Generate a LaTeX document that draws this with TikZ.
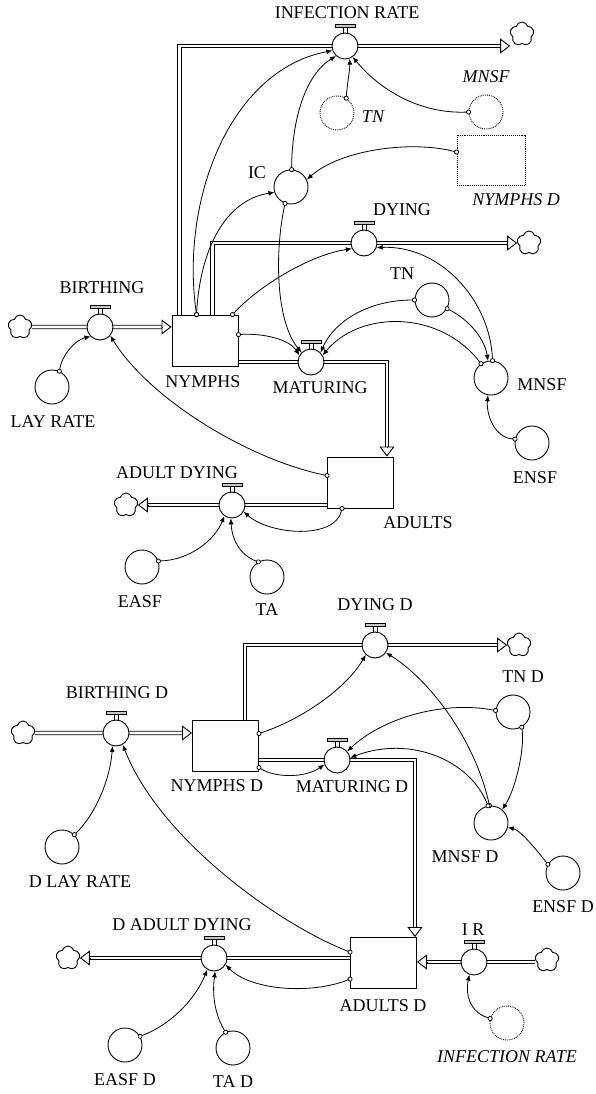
\documentclass[tikz,border=0pt]{standalone}
\usepackage{fontspec}
\setmainfont{Liberation Serif}
\usetikzlibrary{arrows.meta,calc,shapes.symbols}
\pgfdeclarelayer{pipes}
\pgfsetlayers{pipes,main}
\begin{document}
\begin{tikzpicture}[x=1pt,y=-1pt,
  every node/.style={font=\fontsize{18}{20}\selectfont},
  stock/.style={draw, line width=0.9pt, fill=white, minimum width=66pt, minimum height=51pt, inner sep=0pt},
  valve/.style={draw, line width=0.9pt, fill=white, circle, minimum size=26pt, inner sep=0pt},
  aux/.style={draw, line width=0.9pt, fill=white, circle, minimum size=34pt, inner sep=0pt},
  ghost/.style={draw, densely dotted, line width=0.9pt, circle, minimum size=34pt, inner sep=0pt},
  ghostbox/.style={draw, densely dotted, line width=0.9pt, minimum width=68pt, minimum height=50pt, inner sep=0pt},
  sink/.style={draw, cloud, cloud puffs=5, cloud puff arc=150, aspect=1, minimum width=24pt, minimum height=24pt, inner sep=0pt, line width=0.9pt, fill=white},
  lbl/.style={inner sep=0pt},
  ghostlbl/.style={inner sep=0pt, font=\fontsize{18}{20}\selectfont\itshape},
  pipe/.style={line width=0.9pt, double=white, double distance=2.6pt, line join=miter},
  pipehead/.style={line width=0.9pt, -{Triangle[open,length=10pt,width=15pt]}},
  link/.style={line width=0.8pt, {Circle[fill=white,length=5pt,width=5pt]}-{Latex[length=6pt,width=5pt]}, shorten <=-2.5pt},
  valvebar/.style={line width=0.8pt, fill=gray!45},
]
\useasboundingbox (0,0) rectangle (596,1094);

% ---------------- first model ----------------
% stocks
\node[stock] (nymphs) at (205,340.5) {};
\node[stock] (adults) at (360.5,482.5) {};
% flows
\node[valve] (infrate) at (345,46) {};
\node[valve] (birthing) at (100,327) {};
\node[valve] (dying) at (364,243) {};
\node[valve] (maturing) at (311,362) {};
\node[valve] (adultdying) at (232,505) {};
% auxiliaries
\node[aux] (ic) at (291,187) {};
\node[aux] (tn) at (432,300) {};
\node[aux] (mnsf) at (491,378) {};
\node[aux] (ensf) at (532,443) {};
\node[aux] (layrate) at (52,387) {};
\node[aux] (easf) at (142,567) {};
\node[aux] (ta) at (267,577) {};
% ghosts
\node[ghost] (gtn) at (337,113) {};
\node[ghost] (gmnsf) at (486,112) {};
\node[ghostbox] (gnymphsd) at (491,160) {};
% clouds
\node[sink] (c1) at (522,34) {};
\node[sink] (c2) at (20,327) {};
\node[sink] (c3) at (529,243) {};
\node[sink] (c4) at (126,505) {};

% labels
\node[lbl] (infrate-l) at (347,13) {INFECTION RATE};
\node[lbl] (birthing-l) at (102,288) {BIRTHING};
\node[lbl] (dying-l) at (402,210) {DYING};
\node[lbl] (maturing-l) at (320,388) {MATURING};
\node[lbl] (adultdying-l) at (177,473) {ADULT DYING};
\node[lbl] (nymphs-l) at (203,382) {NYMPHS};
\node[lbl] (adults-l) at (418,523) {ADULTS};
\node[lbl] (ic-l) at (257,173) {IC};
\node[lbl] (tn-l) at (402,274) {TN};
\node[lbl] (mnsf-l) at (542,385) {MNSF};
\node[lbl] (ensf-l) at (535,478) {ENSF};
\node[lbl] (layrate-l) at (53,422) {LAY RATE};
\node[lbl] (easf-l) at (140,602) {EASF};
\node[lbl] (ta-l) at (267,610) {TA};
\node[ghostlbl] (gtn-l) at (373,117) {TN};
\node[ghostlbl] (gmnsf-l) at (486,77) {MNSF};
\node[ghostlbl] (gnymphsd-l) at (516,200) {NYMPHS D};

% ---------------- second model ----------------
\node[stock] (nymphsd) at (225.5,745.5) {};
\node[stock] (adultsd) at (383.5,963) {};
\node[valve] (birthingd) at (116,733) {};
\node[valve] (dyingd) at (375,645) {};
\node[valve] (maturingd) at (337,760) {};
\node[valve] (dadultdying) at (214,958) {};
\node[valve] (ir) at (474,962) {};
\node[aux] (tnd) at (513,712) {};
\node[aux] (mnsfd) at (491,823) {};
\node[aux] (ensfd) at (563,873) {};
\node[aux] (dlayrate) at (62,847) {};
\node[aux] (easfd) at (125,1045) {};
\node[aux] (tad) at (233,1048) {};
\node[ghost] (ginfrate) at (507,1023) {};
\node[sink] (c5) at (23,733) {};
\node[sink] (c6) at (519,645) {};
\node[sink] (c7) at (68,958) {};
\node[sink] (c8) at (547,960) {};

\node[lbl] (birthingd-l) at (117,693) {BIRTHING D};
\node[lbl] (dyingd-l) at (375,605) {DYING D};
\node[lbl] (maturingd-l) at (352,787) {MATURING D};
\node[lbl] (dadultdying-l) at (182,925) {D ADULT DYING};
\node[lbl] (ir-l) at (473,930) {I R};
\node[lbl] (nymphsd-l) at (217,786) {NYMPHS D};
\node[lbl] (adultsd-l) at (383,1006) {ADULTS D};
\node[lbl] (tnd-l) at (523,677) {TN D};
\node[lbl] (mnsfd-l) at (465,857) {MNSF D};
\node[lbl] (ensfd-l) at (563,907) {ENSF D};
\node[lbl] (dlayrate-l) at (80,882) {D LAY RATE};
\node[lbl] (easfd-l) at (125,1080) {EASF D};
\node[lbl] (tad-l) at (233,1082) {TA D};
\node[ghostlbl] (ginfrate-l) at (507,1057) {INFECTION RATE};

% valve handles
\foreach \v in {infrate,birthing,dying,maturing,adultdying,birthingd,dyingd,maturingd,dadultdying,ir}{
  \draw[line width=0.8pt] ([xshift=-2pt]\v.north) -- ++(0,-5) ([xshift=2pt]\v.north) -- ++(0,-5);
  \draw[valvebar] ([xshift=-10pt,yshift=5pt]\v.north) rectangle ([xshift=10pt,yshift=8pt]\v.north);
}

% ---------------- pipes ----------------
\begin{pgfonlayer}{pipes}
  % first model
  \draw[pipe, shorten >=10pt] ([xshift=8pt]nymphs.north west) |- (infrate.center) -- (infrate.center -| c1.west);
  \draw[pipehead] ($(infrate.center -| c1.west)+(-10,0)$) -- (infrate.center -| c1.west);
  \draw[pipe, shorten >=10pt] (c2.east) -- (birthing.center -| nymphs.west);
  \draw[pipehead] ($(birthing.center -| nymphs.west)+(-10,0)$) -- (birthing.center -| nymphs.west);
  \draw[pipe, shorten >=10pt] ([xshift=41pt]nymphs.north west) |- (dying.center) -- (dying.center -| c3.west);
  \draw[pipehead] ($(dying.center -| c3.west)+(-10,0)$) -- (dying.center -| c3.west);
  \draw[pipe, shorten >=10pt] (maturing.center -| nymphs.east) -- (maturing.center) -| ([xshift=-7pt]adults.north east);
  \draw[pipehead] ($([xshift=-7pt]adults.north east)+(0,-10)$) -- ([xshift=-7pt]adults.north east);
  \draw[pipe, shorten >=10pt] (adultdying.center -| adults.west) -- (adultdying.center -| c4.east);
  \draw[pipehead] ($(adultdying.center -| c4.east)+(10,0)$) -- (adultdying.center -| c4.east);
  % second model
  \draw[pipe, shorten >=10pt] (c5.east) -- (birthingd.center -| nymphsd.west);
  \draw[pipehead] ($(birthingd.center -| nymphsd.west)+(-10,0)$) -- (birthingd.center -| nymphsd.west);
  \draw[pipe, shorten >=10pt] ([xshift=53pt]nymphsd.north west) |- (dyingd.center) -- (dyingd.center -| c6.west);
  \draw[pipehead] ($(dyingd.center -| c6.west)+(-10,0)$) -- (dyingd.center -| c6.west);
  \draw[pipe, shorten >=10pt] (maturingd.center -| nymphsd.east) -- (maturingd.center) -| ([xshift=-2pt]adultsd.north east);
  \draw[pipehead] ($([xshift=-2pt]adultsd.north east)+(0,-10)$) -- ([xshift=-2pt]adultsd.north east);
  \draw[pipe, shorten >=10pt] (dadultdying.center -| adultsd.west) -- (dadultdying.center -| c7.east);
  \draw[pipehead] ($(dadultdying.center -| c7.east)+(10,0)$) -- (dadultdying.center -| c7.east);
  \draw[pipe, shorten >=10pt] (c8.west |- ir.center) -- (ir.center -| adultsd.east);
  \draw[pipehead] ($(ir.center -| adultsd.east)+(10,0)$) -- (ir.center -| adultsd.east);
\end{pgfonlayer}

% ---------------- connectors, first model ----------------
\draw[link] ([xshift=25pt]nymphs.north west) .. controls (180,200) and (230,70) .. (infrate.200);
\draw[link] ([xshift=25pt]nymphs.north west) .. controls (200,250) and (225,200) .. (ic.198);
\draw[link] (ic.88) .. controls (292,120) and (305,75) .. (infrate.228);
\draw[link] (gtn.58) .. controls (347,85) and (350,70) .. (infrate.290);
\draw[link] (gmnsf.180) .. controls (420,114) and (380,90) .. (infrate.305);
\draw[link] ([yshift=8pt]gnymphsd.west) .. controls (410,140) and (340,150) .. (ic.25);
\draw[link] (ic.250) .. controls (275,250) and (275,320) .. (maturing.135);
\draw[link] ([xshift=-6pt]nymphs.north east) .. controls (260,285) and (310,255) .. (dying.205);
\draw[link] ([yshift=-20pt]nymphs.north east) .. controls (265,333) and (290,340) .. (maturing.150);
\draw[link] (tn.180) .. controls (370,300) and (335,320) .. (maturing.45);
\draw[link] (tn.-30) .. controls (470,320) and (485,340) .. (mnsf.100);
\draw[link] (mnsf.85) .. controls (490,300) and (440,245) .. (dying.-20);
\draw[link] (mnsf.125) .. controls (440,310) and (360,310) .. (maturing.30);
\draw[link] (ensf.167) .. controls (495,438) and (486,415) .. (mnsf.-100);
\draw[link] (layrate.65) .. controls (62,355) and (75,340) .. (birthing.225);
\draw[link] ([yshift=-19pt]adults.north west) .. controls (250,460) and (150,400) .. (birthing.-40);
\draw[link] ([xshift=15pt]adults.south west) .. controls (335,540) and (270,535) .. (adultdying.-30);
\draw[link] (easf.20) .. controls (190,560) and (215,540) .. (adultdying.235);
\draw[link] (ta.120) .. controls (240,555) and (232,540) .. (adultdying.265);

% ---------------- connectors, second model ----------------
\draw[link] ([yshift=-14pt]nymphsd.north east) .. controls (300,720) and (345,690) .. (dyingd.227);
\draw[link] ([yshift=4pt]nymphsd.south east) .. controls (275,778) and (305,778) .. (maturingd.200);
\draw[link] (tnd.175) .. controls (440,700) and (380,720) .. (maturingd.40);
\draw[link] (tnd.-60) .. controls (525,750) and (515,790) .. (mnsfd.50);
\draw[link] (mnsfd.95) .. controls (475,740) and (430,680) .. (dyingd.-35);
\draw[link] (mnsfd.100) .. controls (470,760) and (410,735) .. (maturingd.10);
\draw[link] (ensfd.150) .. controls (535,848) and (520,830) .. (mnsfd.-15);
\draw[link] (dlayrate.45) .. controls (95,815) and (110,780) .. (birthingd.255);
\draw[link] ([yshift=-15pt]adultsd.north west) .. controls (280,925) and (160,840) .. (birthingd.-60);
\draw[link] ([yshift=-42pt]adultsd.north west) .. controls (310,995) and (250,990) .. (dadultdying.-30);
\draw[link] (easfd.30) .. controls (170,1025) and (195,1000) .. (dadultdying.240);
\draw[link] (tad.115) .. controls (215,1015) and (212,995) .. (dadultdying.275);
\draw[link] (ginfrate.165) .. controls (470,1012) and (465,995) .. (ir.250);
\end{tikzpicture}
\end{document}
